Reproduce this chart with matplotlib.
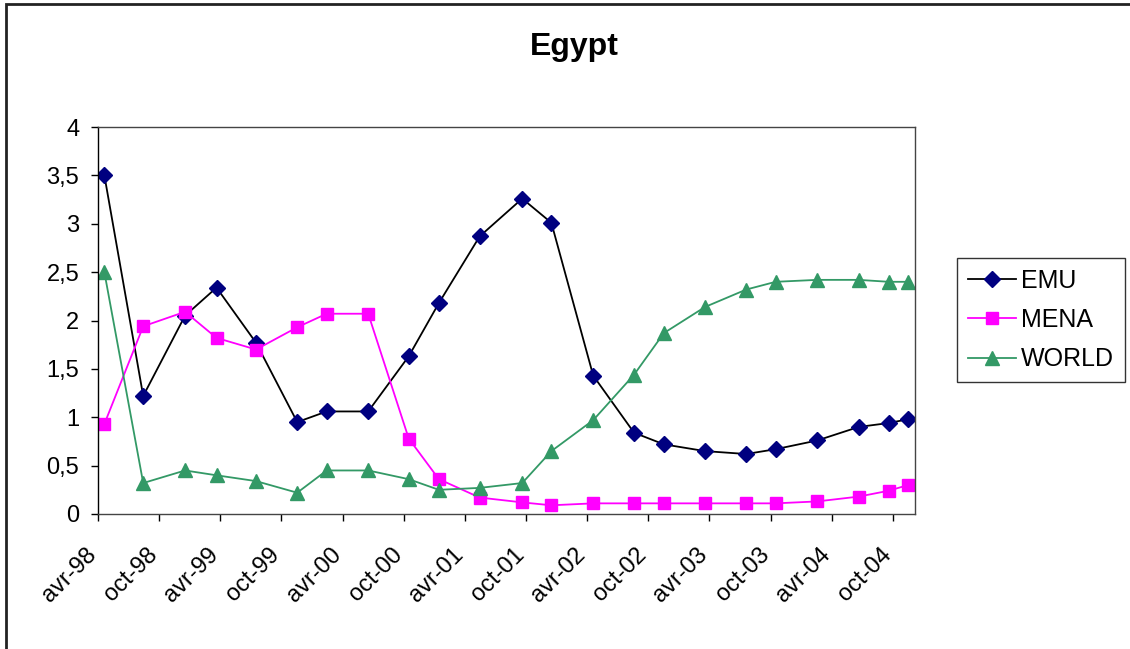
import matplotlib
matplotlib.use("Agg")
import matplotlib.pyplot as plt
import matplotlib.dates as mdates
from matplotlib.patches import Rectangle
from matplotlib.transforms import ScaledTranslation
import pandas as pd

plt.rcParams['font.family'] = ['Liberation Sans', 'DejaVu Sans']

title = "Egypt"
dates = ["1998-04-20", "1998-08-14", "1998-12-17", "1999-03-21", "1999-07-17",
         "1999-11-17", "2000-02-13", "2000-06-16", "2000-10-15", "2001-01-13",
         "2001-05-15", "2001-09-19", "2001-12-15", "2002-04-19", "2002-08-19",
         "2002-11-16", "2003-03-19", "2003-07-20", "2003-10-16", "2004-02-17",
         "2004-06-20", "2004-09-17", "2004-11-15"]
emu = [3.50, 1.22, 2.05, 2.34, 1.77, 0.95, 1.06, 1.06, 1.63, 2.18, 2.87, 3.26,
       3.01, 1.43, 0.84, 0.72, 0.65, 0.62, 0.67, 0.76, 0.90, 0.94, 0.98]
mena = [0.93, 1.94, 2.09, 1.82, 1.70, 1.93, 2.07, 2.07, 0.78, 0.36, 0.17, 0.12,
        0.09, 0.11, 0.11, 0.11, 0.11, 0.11, 0.11, 0.13, 0.18, 0.24, 0.30]
world = [2.50, 0.32, 0.45, 0.40, 0.34, 0.22, 0.45, 0.45, 0.36, 0.25, 0.27, 0.32,
         0.65, 0.97, 1.44, 1.87, 2.14, 2.32, 2.40, 2.42, 2.42, 2.40, 2.40]
tick_labels = ["avr-98", "oct-98", "avr-99", "oct-99", "avr-00", "oct-00", "avr-01",
               "oct-01", "avr-02", "oct-02", "avr-03", "oct-03", "avr-04", "oct-04"]
y_ticks = [0, 0.5, 1, 1.5, 2, 2.5, 3, 3.5, 4]

month_num = {"avr": 4, "oct": 10}
tick_dates = [pd.Timestamp(2000 + int(l[-2:]) if int(l[-2:]) < 50 else 1900 + int(l[-2:]),
                           month_num[l[:3]], 1) for l in tick_labels]
x = pd.to_datetime(dates)

W, H = 1130, 649
fig = plt.figure(figsize=(W / 100, H / 100), dpi=100)
ax = fig.add_axes([98 / W, (H - 514) / H, (915 - 98) / W, (514 - 127) / H])

ax.plot(x, emu, color='black', lw=1.3, marker='D', ms=8, mfc='#000080', mec='#000080', label='EMU')
ax.plot(x, mena, color='#FF00FF', lw=1.3, marker='s', ms=8.5, mfc='#FF00FF', mec='#FF00FF', label='MENA')
ax.plot(x, world, color='#339966', lw=1.3, marker='^', ms=9.5, mfc='#339966', mec='#339966', label='WORLD')

ax.set_xlim(pd.Timestamp("1998-04-01"), pd.Timestamp("2004-12-05"))
ax.set_ylim(0, 4)
ax.set_yticks(y_ticks)
ax.set_yticklabels([f"{v:g}".replace('.', ',') for v in y_ticks])
ax.set_xticks(mdates.date2num(tick_dates))
ax.set_xticklabels(tick_labels, rotation=45, ha='right', va='center', rotation_mode='anchor')
ax.tick_params(axis='both', direction='out', length=5, width=1, labelsize=17, colors='black')
ax.tick_params(axis='x', pad=22)
ax.tick_params(axis='y', pad=8.5)
shift = ScaledTranslation(-0.05, 0, fig.dpi_scale_trans)
for lab in ax.get_xticklabels():
    lab.set_transform(lab.get_transform() + shift)
for s in ax.spines.values():
    s.set_color('#444444')
    s.set_linewidth(1)
ax.spines['left'].set_color('black')

fig.text(574 / W, 1 - 47 / H, title, ha='center', va='center', fontsize=23, fontweight='bold')

leg = ax.legend(loc='upper left', bbox_to_anchor=(957 / W, 1 - 258 / H),
                bbox_transform=fig.transFigure, fontsize=18, frameon=True, fancybox=False,
                edgecolor='black', handlelength=1.95, borderaxespad=0, borderpad=0.42,
                labelspacing=0.62, handletextpad=0.2)
leg.get_frame().set_linewidth(1)

fig.patches.append(Rectangle((6 / W, -0.1), 2, 1.1 - 4 / H, transform=fig.transFigure,
                             fill=False, edgecolor='#222222', linewidth=2))

fig.savefig("out.png", dpi=100)
